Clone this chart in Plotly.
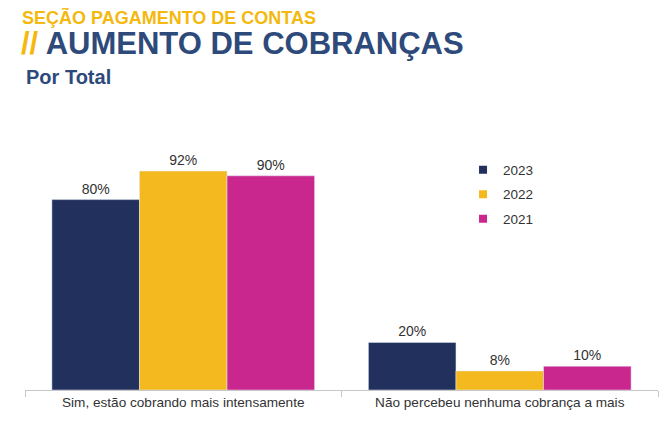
import plotly.graph_objects as go

categorias = ["Sim, estão cobrando mais intensamente", "Não percebeu nenhuma cobrança a mais"]
anos = ["2023", "2022", "2021"]
valores_2023 = [80, 20]
valores_2022 = [92, 8]
valores_2021 = [90, 10]

azul = "#22305E"
amarelo = "#F4B91E"
magenta = "#C9278E"
azul_titulo = "#2E4A7A"
texto = "#333333"

series = [valores_2023, valores_2022, valores_2021]
cores = [azul, amarelo, magenta]

fig = go.Figure()

for ano, vals, cor in zip(anos, series, cores):
    fig.add_trace(go.Bar(
        name=ano, x=categorias, y=vals, marker_color=cor,
        text=[f"{v}%" for v in vals], textposition="outside",
        textfont=dict(size=14, color=texto), cliponaxis=False,
        showlegend=False,
    ))
    # marcador pequeno so para a legenda
    fig.add_trace(go.Scatter(
        name=ano, x=[None], y=[None], mode="markers",
        marker=dict(symbol="square", size=8, color=cor),
        legendgroup=ano,
    ))

# a pagina desloca a figura 8px, por isso 660x422
fig.update_layout(
    width=660, height=422,
    margin=dict(l=17, r=10, t=144, b=40),
    paper_bgcolor="white", plot_bgcolor="white",
    font=dict(family="Arial, Liberation Sans, sans-serif", size=13, color=texto),
    barmode="group", bargap=0.17, bargroupgap=0,
    showlegend=True,
    legend=dict(x=0.692, y=0.99, xanchor="left", yanchor="top",
                traceorder="grouped", tracegroupgap=4,
                font=dict(size=13.5, color=texto), itemwidth=30),
    xaxis=dict(showline=True, linecolor="#C8C8C8", linewidth=1,
               ticks="outside", tickson="boundaries", ticklen=6,
               tickcolor="#C8C8C8", tickfont=dict(size=13.6, color=texto)),
    yaxis=dict(range=[0, 100], visible=False),
)

# titulos
fig.add_annotation(text="<b>SEÇÃO PAGAMENTO DE CONTAS</b>", xref="paper", yref="paper",
                   x=-0.008, y=1.566, xanchor="left", yanchor="middle", showarrow=False,
                   font=dict(size=18, color="#F5B80C"))
fig.add_annotation(text="<b><span style='color:#F5B80C'>//</span> AUMENTO DE COBRANÇAS</b>",
                   xref="paper", yref="paper", x=-0.01, y=1.455, xanchor="left",
                   yanchor="middle", showarrow=False, font=dict(size=31, color=azul_titulo))
fig.add_annotation(text="<b>Por Total</b>", xref="paper", yref="paper",
                   x=-0.002, y=1.315, xanchor="left", yanchor="middle", showarrow=False,
                   font=dict(size=20, color=azul_titulo))

fig.write_html("out.html")
